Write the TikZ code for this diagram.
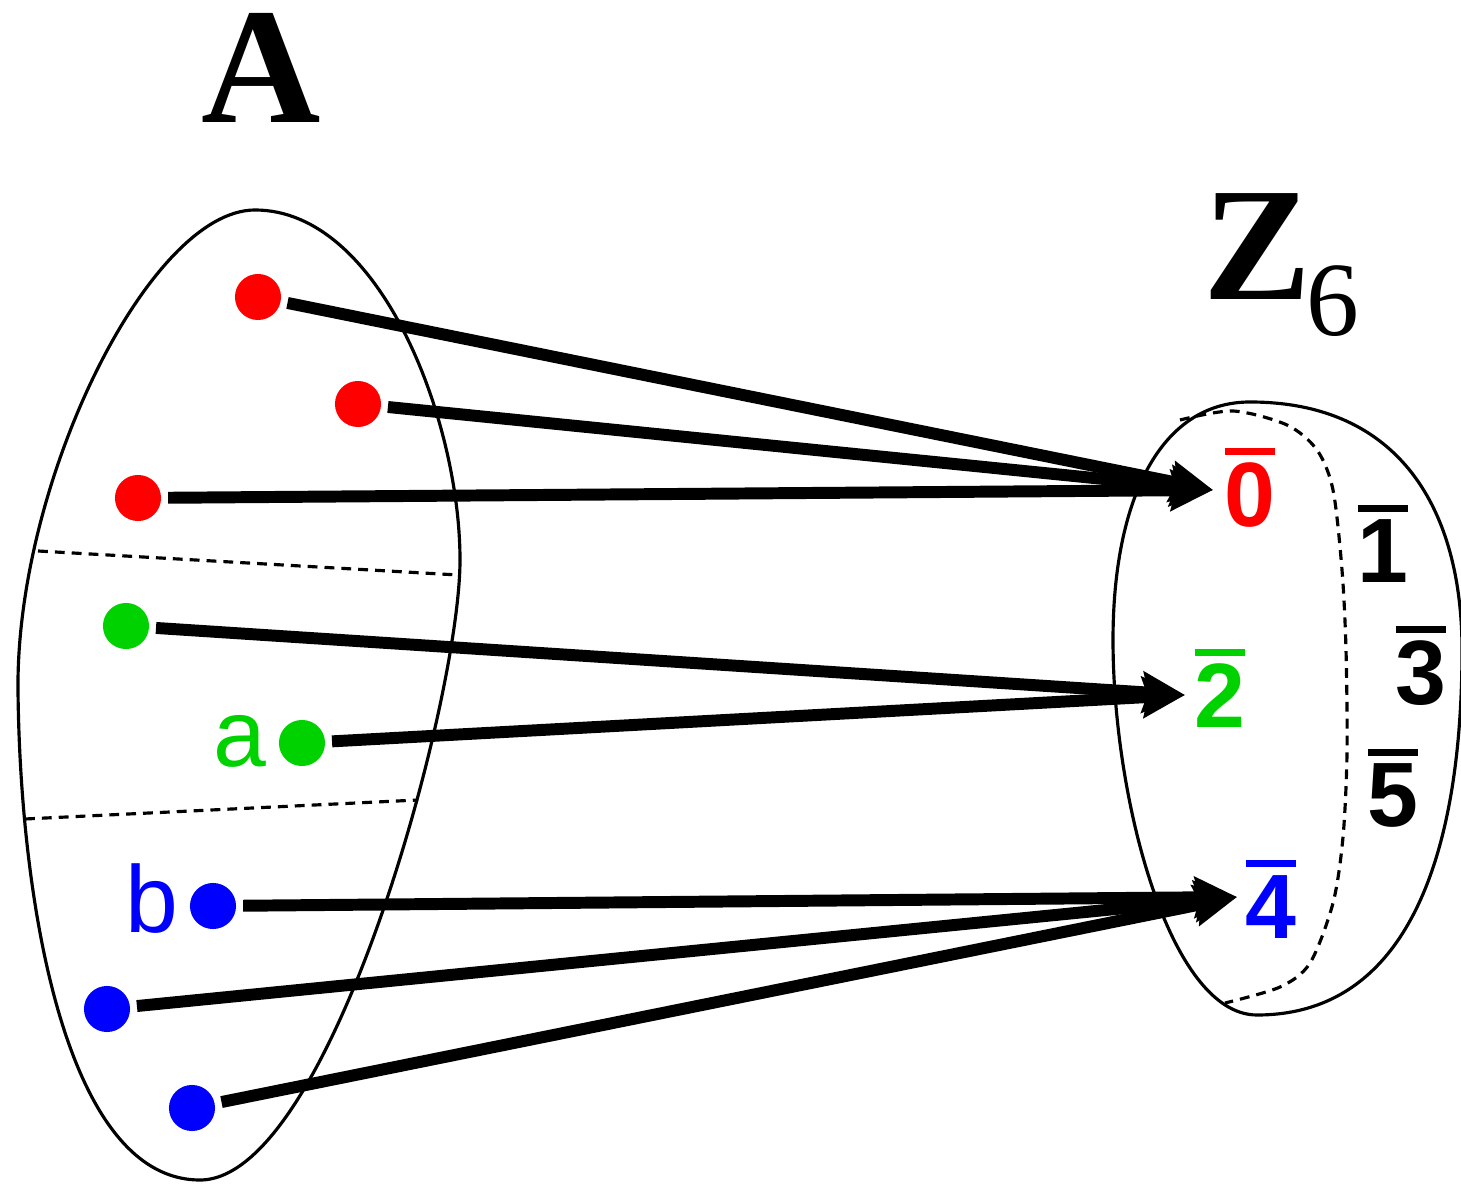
\documentclass[tikz,border=0pt]{standalone}
\usepackage{fontspec}
\setmainfont{Liberation Serif}
\newfontfamily\lsans{Liberation Sans}
\usetikzlibrary{arrows.meta}
\definecolor{zred}{RGB}{255,0,0}
\definecolor{zgreen}{RGB}{0,210,0}
\definecolor{zblue}{RGB}{0,0,255}
\newcommand\ovd[1]{\vbox{\hrule height 2pt\kern 2.3pt\hbox{#1}}}
\begin{document}
\begin{tikzpicture}[x=0.01cm,y=-0.01cm,
  dot/.style={circle,inner sep=0pt,minimum size=13.1pt,outer sep=2pt},
  map/.style={line width=3.4pt,-{Stealth[length=12pt,width=11.5pt,inset=1.5pt]}},
  blob/.style={line width=0.9pt},
  part/.style={line width=0.9pt,dash pattern=on 2.8pt off 2pt},
  cls/.style={font=\lsans\bfseries\fontsize{26}{26}\selectfont,inner sep=0pt,anchor=base},
  lbl/.style={font=\lsans\fontsize{27}{27}\selectfont,inner sep=0pt,anchor=base}]
\useasboundingbox (0,0) rectangle (1461,1186);

% set A
\draw[blob] (255,210) .. controls (380,210) and (460,420) .. (460,560)
  .. controls (460,700) and (330,1180) .. (200,1180)
  .. controls (65,1180) and (20,900) .. (18,690)
  .. controls (16,480) and (150,210) .. (255,210) -- cycle;
\draw[part] (38,551) -- (458,575);
\draw[part] (25,819) -- (418,800);

% set Z6
\draw[blob] (1250,402) .. controls (1400,402) and (1462,510) .. (1462,650)
  .. controls (1462,850) and (1410,1015) .. (1257,1015)
  .. controls (1170,1015) and (1113,800) .. (1113,640)
  .. controls (1113,500) and (1160,402) .. (1250,402) -- cycle;
\draw[part] plot[smooth] coordinates {(1180,420) (1233,411) (1287,425) (1317,450) (1333,490) (1342,570) (1346,650) (1347,753) (1343,837) (1333,903) (1310,963) (1280,987) (1225,1003)};

% titles
\node[inner sep=0pt,anchor=base,font=\bfseries\fontsize{47}{47}\selectfont] (tA) at (261,123) {A};
\node[inner sep=0pt,anchor=base west] (tZ) at (1203,300) {\fontsize{46}{46}\selectfont\bfseries Z\kern-1.5pt\raisebox{-10pt}{\fontsize{30}{30}\selectfont\mdseries 6}};

% elements of A
\node[dot,fill=zred] (r1) at (258,297) {};
\node[dot,fill=zred] (r2) at (358,404) {};
\node[dot,fill=zred] (r3) at (138,498) {};
\node[dot,fill=zgreen] (g1) at (126,626) {};
\node[dot,fill=zgreen] (g2) at (302,743) {};
\node[dot,fill=zblue] (b1) at (213,906) {};
\node[dot,fill=zblue] (b2) at (107,1009) {};
\node[dot,fill=zblue] (b3) at (192,1108) {};
\node[lbl,text=zgreen] (la) at (240,767) {a};
\node[lbl,text=zblue] (lb) at (152,932) {b};

% classes
\node[cls,text=zred] (c0) at (1250,527) {\ovd{0}};
\node[cls] (c1) at (1383,583) {\ovd{1}};
\node[cls,text=zgreen] (c2) at (1220,728) {\ovd{2}};
\node[cls] (c3) at (1421,705) {\ovd{3}};
\node[cls,text=zblue] (c4) at (1271,938) {\ovd{4}};
\node[cls] (c5) at (1393,827) {\ovd{5}};

\coordinate (t0) at (1213,490);
\coordinate (t2) at (1185,695);
\coordinate (t4) at (1237,897);

\draw[map] (r1) -- (t0);
\draw[map] (r2) -- (t0);
\draw[map] (r3) -- (t0);
\draw[map] (g1) -- (t2);
\draw[map] (g2) -- (t2);
\draw[map] (b1) -- (t4);
\draw[map] (b2) -- (t4);
\draw[map] (b3) -- (t4);
\end{tikzpicture}
\end{document}
